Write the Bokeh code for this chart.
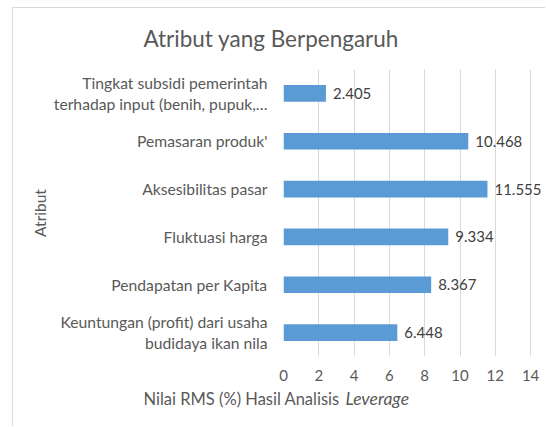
from bokeh.plotting import figure
from bokeh.models import ColumnDataSource, FactorRange, LabelSet, FixedTicker, Title
from bokeh.core.properties import value
from bokeh.embed import file_html
from bokeh.resources import INLINE

# Data (top to bottom as shown in the chart)
categories = [
    "Tingkat subsidi pemerintah\nterhadap input (benih, pupuk,\u2026",
    "Pemasaran produk'",
    "Aksesibilitas pasar",
    "Fluktuasi harga",
    "Pendapatan per Kapita",
    "Keuntungan (profit) dari usaha\nbudidaya ikan nila",
]
values = [2.405, 10.468, 11.555, 9.334, 8.367, 6.448]
value_labels = ["2.405", "10.468", "11.555", "9.334", "8.367", "6.448"]
x_ticks = [0, 2, 4, 6, 8, 10, 12, 14]

title_text = "Atribut yang Berpengaruh"
y_label = "Atribut"
x_label_plain = "Nilai RMS (%) Hasil Analisis"
x_label_italic = "Leverage"

FONT = "Lato"
TXT = "#595959"
GRID = "#d9d9d9"
BAR = "#5B9BD5"
W, H = 533, 419

cats_bottom_up = list(reversed(categories))
src = ColumnDataSource(dict(cat=categories, val=values, lab=value_labels))

p = figure(
    width=W, height=H,
    y_range=FactorRange(factors=cats_bottom_up, range_padding=0),
    x_range=(0, 14.9),
    output_backend="svg", toolbar_location=None,
    min_border_left=270, min_border_right=0, min_border_top=60, min_border_bottom=71,
    margin=(8, 0, 0, 13),
    styles={"box-shadow": "-1px -1px 0 0 #d9d9d9"},
)
p.outline_line_color = None
p.background_fill_color = "white"
p.border_fill_color = "white"

p.hbar(y="cat", right="val", left=0, height=0.35, source=src,
       fill_color=BAR, line_color=None)
p.add_layout(LabelSet(x="val", y="cat", text="lab", source=src, x_offset=7,
                      text_baseline="middle", text_align="left",
                      text_font_size="15px", text_color="#404040",
                      text_font=value(FONT)))

# title
p.title.text = title_text
p.title.text_font = FONT
p.title.text_font_size = "22.5px"
p.title.text_font_style = "normal"
p.title.text_color = TXT
p.title.align = "left"
p.title.vertical_align = "top"
p.title.offset = -140
p.title.standoff = 32

# x axis
p.xaxis.ticker = FixedTicker(ticks=x_ticks)
p.xaxis.axis_line_color = None
p.xaxis.major_tick_line_color = None
p.xaxis.minor_tick_line_color = None
p.xaxis.major_label_text_font = FONT
p.xaxis.major_label_text_font_size = "15px"
p.xaxis.major_label_text_color = TXT
p.xaxis.major_label_standoff = 7

# x axis title: plain part + italic part on the same line
p.add_layout(Title(text=x_label_plain, align="left", vertical_align="top",
                   offset=-140, standoff=10,
                   text_font=FONT, text_font_size="16.5px", text_font_style="normal",
                   text_color=TXT), "below")
p.add_layout(Title(text=x_label_italic, align="left", vertical_align="top",
                   offset=62, standoff=-55,
                   text_font=FONT, text_font_size="17.5px", text_font_style="italic",
                   text_color=TXT), "below")

# y axis
p.yaxis.axis_line_color = None
p.yaxis.major_tick_line_color = None
p.yaxis.minor_tick_line_color = None
p.yaxis.major_label_text_font = FONT
p.yaxis.major_label_text_font_size = "15.7px"
p.yaxis.major_label_text_line_height = 1.18
p.yaxis.major_label_text_color = TXT
p.yaxis.major_label_standoff = 10
p.yaxis.axis_label = y_label
p.yaxis.axis_label_text_font = FONT
p.yaxis.axis_label_text_font_size = "15.5px"
p.yaxis.axis_label_text_font_style = "normal"
p.yaxis.axis_label_text_color = TXT
p.yaxis.axis_label_standoff = 2

p.ygrid.grid_line_color = None
p.xgrid.grid_line_color = GRID
p.xgrid.grid_line_width = 1

open("out.html", "w").write(file_html(p, INLINE))
